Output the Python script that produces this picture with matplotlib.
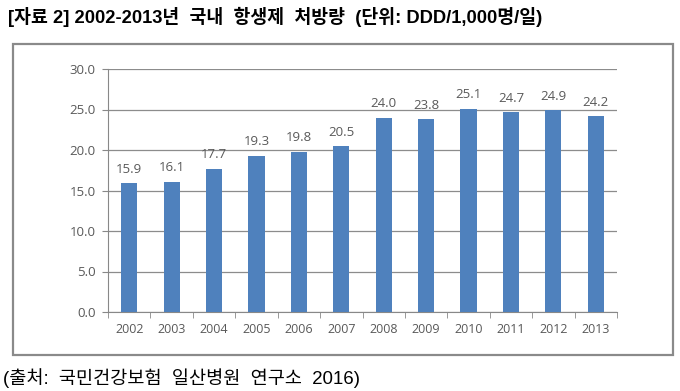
import numpy as np
import matplotlib.pyplot as plt
from matplotlib.patches import Rectangle

# data
years = ['2002', '2003', '2004', '2005', '2006', '2007',
         '2008', '2009', '2010', '2011', '2012', '2013']
ddd = [15.9, 16.1, 17.7, 19.3, 19.8, 20.5, 24.0, 23.8, 25.1, 24.7, 24.9, 24.2]
yticks = [0, 5, 10, 15, 20, 25, 30]

title = '[자료 2] 2002-2013년  국내  항생제  처방량  (단위: DDD/1,000명/일)'
source = '(출처:  국민건강보험  일산병원  연구소  2016)'

fam = ['Liberation Sans', 'Noto Sans CJK KR']
txt = '#595959'

fig = plt.figure(figsize=(6.8, 3.91), dpi=100)
fig.patch.set_facecolor('white')

# frame around the chart
fig.patches.append(Rectangle((13 / 680, 1 - 355 / 391), 660 / 680, 311 / 391,
                             transform=fig.transFigure, fill=False,
                             edgecolor='#8a8a8a', lw=1.6))

ax = fig.add_axes([108 / 680, 1 - 312 / 391, 509 / 680, 243 / 391])
x = np.arange(len(years))
ax.bar(x, ddd, width=0.38, color='#4F81BD', zorder=3)
for xi, v in zip(x, ddd):
    ax.text(xi, v + 0.9, f'{v:.1f}', ha='center', va='bottom',
            fontsize=9.5, color=txt, family='Open Sans')

ax.set_xlim(-0.5, len(years) - 0.5)
ax.set_ylim(0, 30)
ax.set_yticks(yticks)
ax.set_yticklabels([f'{t:.1f}' for t in yticks], family='Open Sans',
                   fontsize=9.5, color=txt)
ax.set_xticks(x)
ax.set_xticklabels(years, family='Open Sans', fontsize=9, color=txt)
ax.tick_params(axis='x', length=0, pad=8)
ax.set_xticks(np.arange(-0.5, len(years)), minor=True)
ax.tick_params(axis='x', which='minor', length=4, color='#888888')
ax.tick_params(axis='y', length=4, color='#888888', pad=5)
ax.grid(axis='y', color='#8c8c8c', lw=0.9, zorder=0)
for s in ['top', 'right']:
    ax.spines[s].set_visible(False)
ax.spines['left'].set_color('#888888')
ax.spines['bottom'].set_color('#888888')

fig.text(8 / 680, 1 - 17 / 391, title, fontsize=13.2, fontweight='bold',
         family=fam, va='center', ha='left')
fig.text(3 / 680, 1 - 378 / 391, source, fontsize=13.4,
         family=fam, va='center', ha='left')

plt.savefig('out.png', dpi=100)
